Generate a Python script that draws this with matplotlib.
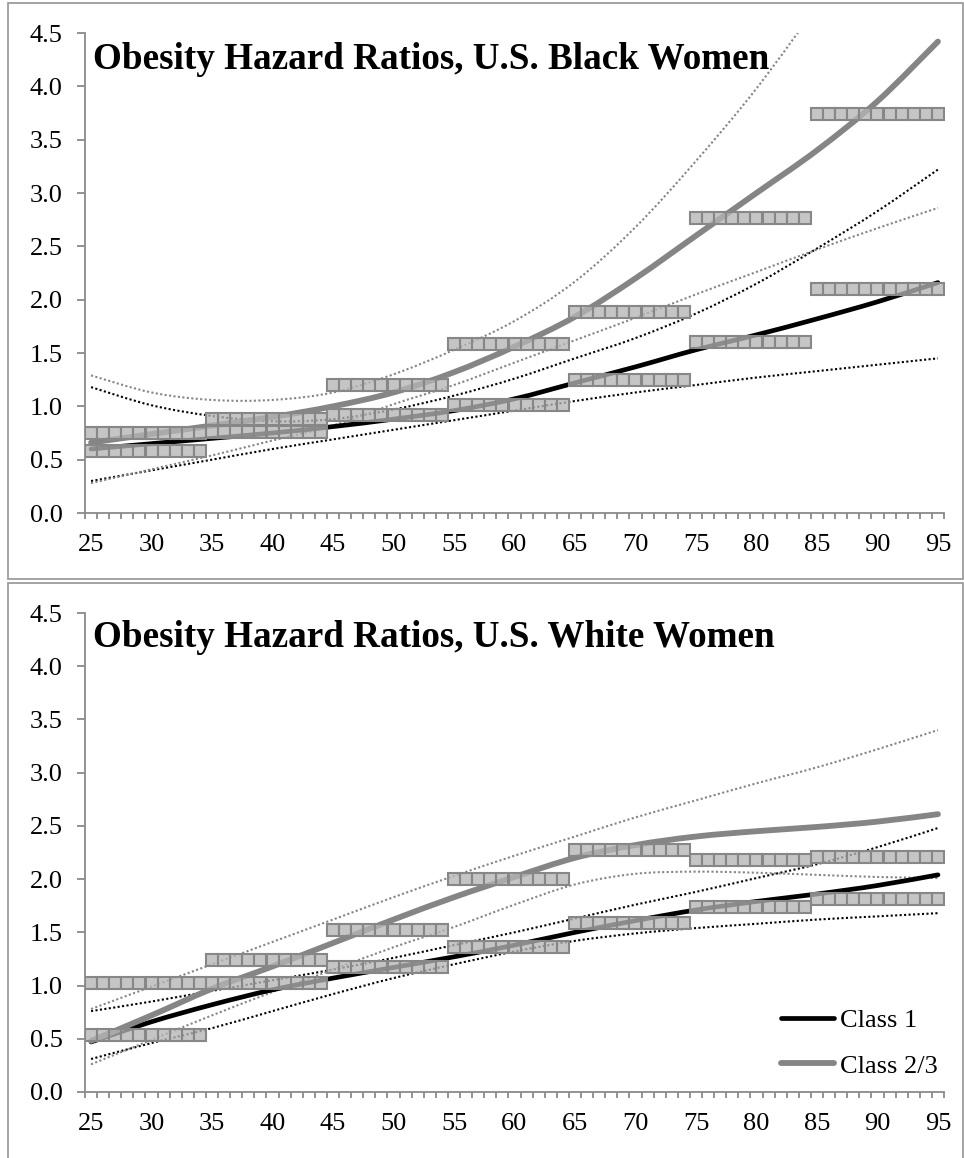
import numpy as np
import matplotlib
matplotlib.use("Agg")
import matplotlib.pyplot as plt
from matplotlib.path import Path
from matplotlib.patches import PathPatch, Rectangle
from matplotlib.lines import Line2D

# ---------------------------------------------------------------------------
# Data
# ---------------------------------------------------------------------------
# Age bands of the grouped hazard-ratio estimates (first and last year)
band_starts = [25, 35, 45, 55, 65, 75, 85]
band_ends = [34, 44, 54, 64, 74, 84, 95]

# Grouped estimates, U.S. Black women
bw_class1_bands = [0.58, 0.76, 0.92, 1.01, 1.25, 1.60, 2.10]
bw_class23_bands = [0.75, 0.88, 1.20, 1.58, 1.88, 2.77, 3.74]

# Grouped estimates, U.S. White women
ww_class1_bands = [0.54, 1.02, 1.17, 1.36, 1.59, 1.74, 1.81]
ww_class23_bands = [1.02, 1.24, 1.52, 2.00, 2.27, 2.18, 2.21]

# Ages at which the smooth hazard-ratio curves are sampled
curve_ages = [25, 30, 35, 40, 45, 50, 55, 60, 65, 70, 75, 80, 85, 90, 95]
curve_ages_short = [25, 30, 35, 40, 45, 50, 55, 60, 65, 70, 75, 80, 85]

# Smooth estimates and 95% bounds, U.S. Black women
bw_class1 = [0.60, 0.65, 0.70, 0.75, 0.81, 0.88, 0.96, 1.07, 1.22, 1.37, 1.53, 1.67, 1.82, 1.98, 2.16]
bw_class1_hi = [1.18, 1.01, 0.91, 0.86, 0.88, 0.97, 1.10, 1.26, 1.45, 1.64, 1.87, 2.15, 2.48, 2.83, 3.22]
bw_class1_lo = [0.30, 0.40, 0.50, 0.60, 0.69, 0.78, 0.87, 0.96, 1.05, 1.13, 1.20, 1.27, 1.33, 1.39, 1.45]
bw_class23 = [0.66, 0.74, 0.82, 0.90, 1.00, 1.13, 1.32, 1.56, 1.84, 2.20, 2.60, 3.00, 3.40, 3.86, 4.42]
bw_class23_hi = [1.29, 1.13, 1.06, 1.06, 1.13, 1.30, 1.53, 1.80, 2.17, 2.68, 3.30, 3.98, 4.75]
bw_class23_lo = [0.28, 0.41, 0.54, 0.68, 0.82, 1.02, 1.20, 1.41, 1.62, 1.83, 2.05, 2.26, 2.47, 2.67, 2.86]

# Smooth estimates and 95% bounds, U.S. White women
ww_class1 = [0.47, 0.66, 0.82, 0.96, 1.07, 1.17, 1.27, 1.38, 1.50, 1.61, 1.71, 1.79, 1.86, 1.94, 2.04]
ww_class1_hi = [0.76, 0.85, 0.95, 1.05, 1.15, 1.26, 1.38, 1.50, 1.63, 1.76, 1.88, 2.01, 2.14, 2.30, 2.48]
ww_class1_lo = [0.31, 0.46, 0.60, 0.76, 0.92, 1.07, 1.20, 1.32, 1.42, 1.49, 1.54, 1.58, 1.62, 1.65, 1.68]
ww_class23 = [0.48, 0.72, 0.97, 1.18, 1.40, 1.62, 1.83, 2.02, 2.20, 2.32, 2.40, 2.45, 2.49, 2.54, 2.61]
ww_class23_hi = [0.78, 0.99, 1.20, 1.41, 1.62, 1.83, 2.03, 2.22, 2.40, 2.58, 2.74, 2.90, 3.05, 3.22, 3.40]
ww_class23_lo = [0.26, 0.49, 0.72, 0.94, 1.15, 1.36, 1.55, 1.76, 1.95, 2.05, 2.07, 2.06, 2.04, 2.02, 2.01]

y_ticks = [0.0, 0.5, 1.0, 1.5, 2.0, 2.5, 3.0, 3.5, 4.0, 4.5]
x_ticks = [25, 30, 35, 40, 45, 50, 55, 60, 65, 70, 75, 80, 85, 90, 95]

titles = ["Obesity Hazard Ratios, U.S. Black Women",
          "Obesity Hazard Ratios, U.S. White Women"]
legend_labels = ["Class 1", "Class 2/3"]

# ---------------------------------------------------------------------------
# Style
# ---------------------------------------------------------------------------
SERIF = "Liberation Serif"
GRAY = "#858585"
AXIS_GRAY = "#8a8a8a"
FRAME_GRAY = "#9c9c9c"
TICK_FS = 19
W, H = 964, 1158

plt.rcParams["font.family"] = [SERIF, "DejaVu Serif"]


def smooth_path(xs, ys):
    """Catmull-Rom style smoothed path through the sampled points."""
    pts = np.column_stack([xs, ys]).astype(float)
    n = len(pts)
    verts = [pts[0]]
    codes = [Path.MOVETO]
    for i in range(n - 1):
        p0 = pts[i - 1] if i > 0 else pts[i]
        p1 = pts[i]
        p2 = pts[i + 1]
        p3 = pts[i + 2] if i + 2 < n else pts[i + 1]
        c1 = p1 + (p2 - p0) / 6.0
        c2 = p2 - (p3 - p1) / 6.0
        verts.extend([c1, c2, p2])
        codes.extend([Path.CURVE4] * 3)
    return Path(verts, codes)


def draw_curve(ax, xs, ys, **kw):
    patch = PathPatch(smooth_path(xs, ys), fill=False,
                      transform=ax.transData, **kw)
    ax.add_patch(patch)
    return patch


def draw_bands(ax, values):
    for start, end, val in zip(band_starts, band_ends, values):
        ages = np.arange(start, end + 1)
        ax.plot(ages, np.full(len(ages), val), linestyle="none",
                marker="s", markersize=8.5,
                markerfacecolor=(0.71, 0.71, 0.71, 0.78),
                markeredgecolor="#878787", markeredgewidth=1.5,
                zorder=4)


def style_axes(ax):
    ax.set_xlim(24.5, 95.5)
    ax.set_ylim(0, 4.5)
    for s in ("top", "right"):
        ax.spines[s].set_visible(False)
    for s in ("left", "bottom"):
        ax.spines[s].set_color(AXIS_GRAY)
        ax.spines[s].set_linewidth(1.3)
    ax.set_yticks(y_ticks)
    ax.set_yticklabels([f"{v:.1f}" for v in y_ticks])
    ax.set_xticks(x_ticks)
    ax.set_xticklabels([str(v) for v in x_ticks])
    ax.set_xticks(np.arange(24.5, 96.0, 1.0), minor=True)
    ax.tick_params(axis="y", which="major", direction="out", length=6,
                   width=1.3, color=AXIS_GRAY, pad=10, labelsize=TICK_FS)
    ax.tick_params(axis="x", which="major", length=0, pad=15,
                   labelsize=TICK_FS)
    ax.tick_params(axis="x", which="minor", direction="out", length=4.3,
                   width=1.3, color=AXIS_GRAY)
    ax.tick_params(axis="y", which="minor", length=0)
    ax.set_facecolor("none")


fig = plt.figure(figsize=(W / 100, H / 100), dpi=100)

# Panel frames
fig.patches.append(Rectangle((8 / W, 1 - 579 / H), (963 - 8) / W, (579 - 3) / H,
                             transform=fig.transFigure, fill=False,
                             edgecolor=FRAME_GRAY, linewidth=1.3))
fig.patches.append(Rectangle((8 / W, 1 - 1162 / H), (963 - 8) / W, (1162 - 583) / H,
                             transform=fig.transFigure, fill=False,
                             edgecolor=FRAME_GRAY, linewidth=1.3))

ax1 = fig.add_axes([85 / W, 1 - 513 / H, (944 - 85) / W, (513 - 33) / H])
ax2 = fig.add_axes([85 / W, 1 - 1092 / H, (944 - 85) / W, (1092 - 613) / H])

panels = [
    (ax1, bw_class1, bw_class1_hi, bw_class1_lo, bw_class23, bw_class23_hi,
     bw_class23_lo, bw_class1_bands, bw_class23_bands, curve_ages_short),
    (ax2, ww_class1, ww_class1_hi, ww_class1_lo, ww_class23, ww_class23_hi,
     ww_class23_lo, ww_class1_bands, ww_class23_bands, curve_ages),
]

dot = (0, (1, 1.15))
for (ax, c1, c1_hi, c1_lo, c23, c23_hi, c23_lo, b1, b23, hi_ages) in panels:
    style_axes(ax)
    draw_curve(ax, curve_ages, c1_hi, edgecolor="black", linewidth=1.5,
               linestyle=dot, capstyle="butt", zorder=2)
    draw_curve(ax, curve_ages, c1_lo, edgecolor="black", linewidth=1.5,
               linestyle=dot, capstyle="butt", zorder=2)
    draw_curve(ax, hi_ages, c23_hi, edgecolor=GRAY, linewidth=1.5,
               linestyle=dot, capstyle="butt", zorder=2)
    draw_curve(ax, curve_ages, c23_lo, edgecolor=GRAY, linewidth=1.5,
               linestyle=dot, capstyle="butt", zorder=2)
    draw_curve(ax, curve_ages, c1, edgecolor="black", linewidth=3.4,
               capstyle="round", zorder=3)
    draw_curve(ax, curve_ages, c23, edgecolor=GRAY, linewidth=4.2,
               capstyle="round", zorder=3)
    draw_bands(ax, b1)
    draw_bands(ax, b23)

# Titles
for ax, title, base in ((ax1, titles[0], 69), (ax2, titles[1], 647)):
    fig.text(93 / W, 1 - base / H, title, fontsize=26.7, fontweight="bold",
             va="baseline", ha="left", family=[SERIF, "DejaVu Serif"])

# Legend
handles = [Line2D([], [], color="black", linewidth=3.4, solid_capstyle="round"),
           Line2D([], [], color=GRAY, linewidth=4.2, solid_capstyle="round")]
ax2.legend(handles, legend_labels, loc="upper left",
           bbox_to_anchor=(781 / W, 1 - 1009 / H), bbox_transform=fig.transFigure,
           frameon=False, borderpad=0, borderaxespad=0, handlelength=2.0,
           handletextpad=0.22, labelspacing=0.82, fontsize=TICK_FS)

fig.savefig("out.png", dpi=100)
